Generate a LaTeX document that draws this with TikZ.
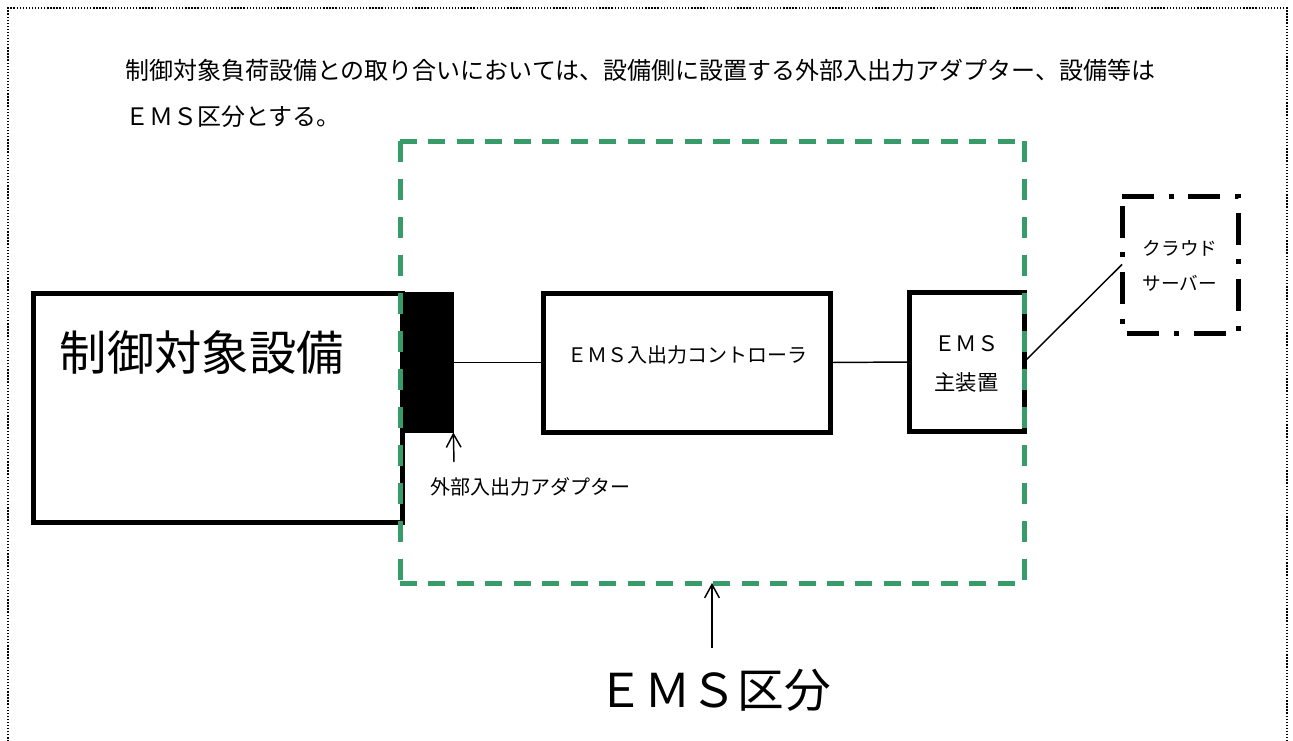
\documentclass[tikz,border=0pt]{standalone}
\usepackage{fontspec}
\setmainfont{Noto Sans CJK JP}
\usetikzlibrary{arrows.meta}
\definecolor{emsgreen}{RGB}{56,156,106}
\newcommand{\fs}[1]{\fontsize{#1}{#1}\selectfont}
\tikzset{
  box/.style={draw=black, line width=3.75pt, rectangle, inner sep=0pt, outer sep=0pt},
  conn/.style={draw=black, line width=1.1pt},
  uparrow/.style={conn, -{Straight Barb[length=10pt,width=11pt,line width=1.1pt]}},
  txt/.style={inner sep=0pt, outer sep=0pt},
  greenh/.style={draw=emsgreen, line width=3.75pt, dash pattern=on 12.75pt off 8.6pt},
  greenv/.style={draw=emsgreen, line width=3.75pt, dash pattern=on 15.75pt off 12.75pt},
  cloudline/.style={draw=black, line width=3.75pt, dash pattern=on 24pt off 11pt on 3.75pt off 11pt}
}
\begin{document}
\begin{tikzpicture}[x=0.75pt, y=-0.75pt]
\useasboundingbox (0,0) rectangle (1293,740);
\clip (0,0) rectangle (1293,740);
% outer dotted frame
\draw[line width=1pt, dash pattern=on 1pt off 1.3pt] (8,760) -- (8,8) -- (1287,8) -- (1287,760);
% heading text
\node[txt, anchor=west] (line1) at (125,70) {\fs{18pt}制御対象負荷設備との取り合いにおいては、設備側に設置する外部入出力アダプター、設備等は};
\node[txt, anchor=west] (line2) at (125,117) {\fs{18pt}ＥＭＳ区分とする。};
% boxes
\node[box, minimum width=276.75pt, minimum height=171.75pt] (equip) at (217.5,407.5) {};
\node[txt, anchor=west] (equiplabel) at (60,352) {\fs{35.5pt}制御対象設備};
\node[box, fill=black, line width=1pt, minimum width=38pt, minimum height=105pt] (adapter) at (428,362.5) {};
\node[box, minimum width=215.25pt, minimum height=104.25pt] (ctrl) at (686.5,362.5) {};
\node[txt] (ctrllabel) at (687,355) {\fs{15pt}ＥＭＳ入出力コントローラ};
\node[box, minimum width=86.25pt, minimum height=104.25pt, align=center] (main) at (966.5,362) {};
\node[txt] (mainl1) at (966.5,344) {\fs{16pt}ＥＭＳ};
\node[txt] (mainl2) at (966.5,382) {\fs{16pt}主装置};
\node[minimum width=87pt, minimum height=102.75pt, inner sep=0pt, outer sep=0pt] (cloud) at (1180,264.5) {};
\draw[cloudline] (cloud.north west) -- (cloud.north east) -- (cloud.south east) -- (cloud.south west) -- (cloud.north west);
\node[txt] (cloudl1) at (1180,248) {\fs{14pt}クラウド};
\node[txt] (cloudl2) at (1180,283) {\fs{14pt}サーバー};
% connectors
\draw[conn] (adapter.east) -- (ctrl.west);
\draw[conn] (ctrl.east) -- (main.west);
\draw[conn] (main.east) -- (cloud.west);
% EMS area (green dashed)
\node[minimum width=468pt, minimum height=331.5pt, inner sep=0pt, outer sep=0pt] (ems) at (712,362) {};
\draw[greenh] (ems.north west) -- (ems.north east);
\draw[greenh] (ems.south west) -- (ems.south east);
\draw[greenv] (ems.north west) -- (ems.south west);
\draw[greenv] (ems.north east) -- (ems.south east);
% adapter label
\coordinate (adtail) at (454,462);
\draw[uparrow] (adtail) -- (adapter.south east);
\node[txt, anchor=west] (adlabel) at (430,487) {\fs{15pt}外部入出力アダプター};
% EMS label
\coordinate (emstail) at (712,648);
\draw[uparrow] (emstail) -- (ems.south);
\node[txt] (emslabel) at (714,690) {\fs{35pt}ＥＭＳ区分};
\end{tikzpicture}
\end{document}
